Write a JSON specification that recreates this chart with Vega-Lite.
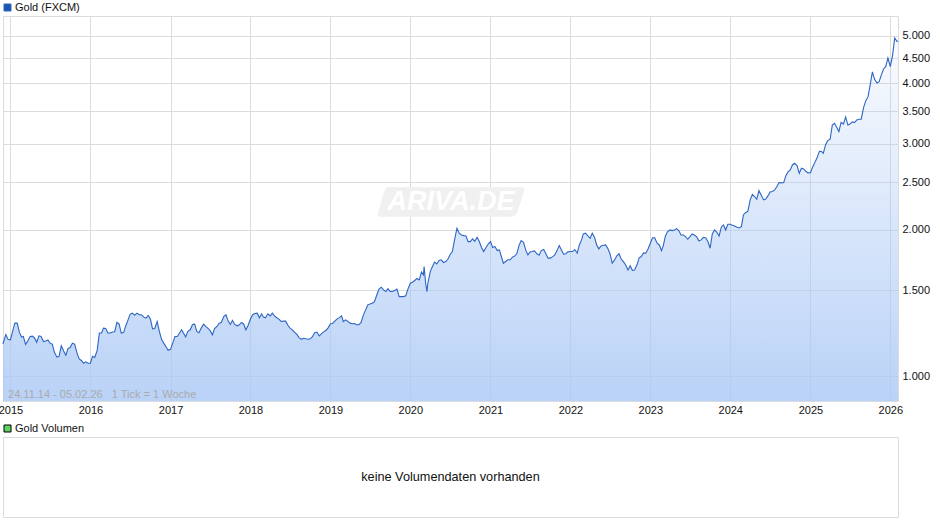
{
  "$schema": "https://vega.github.io/schema/vega-lite/v6.json",
  "background": "white",
  "padding": {"left": -3, "top": 1, "right": 0, "bottom": 0},
  "bounds": "flush",
  "spacing": 36,
  "config": {"font": "Liberation Sans", "view": {"stroke": "#dcdcdc"}},
  "resolve": {"scale": {"color": "independent"}, "legend": {"color": "independent"}},
  "datasets": {
    "gold": [
      {"d":"2014-11-28","v":1165},{"d":"2014-12-01","v":1178},{"d":"2014-12-11","v":1218},{"d":"2014-12-21","v":1190},
      {"d":"2015-01-01","v":1187},{"d":"2015-01-11","v":1236},{"d":"2015-01-21","v":1285},{"d":"2015-02-01","v":1285},{"d":"2015-02-11","v":1230},{"d":"2015-02-21","v":1203},{"d":"2015-03-01","v":1206},{"d":"2015-03-11","v":1162},{"d":"2015-03-21","v":1181},{"d":"2015-04-01","v":1206},{"d":"2015-04-11","v":1208},{"d":"2015-04-21","v":1198},{"d":"2015-05-01","v":1174},{"d":"2015-05-11","v":1210},{"d":"2015-05-21","v":1206},{"d":"2015-06-01","v":1178},{"d":"2015-06-11","v":1181},{"d":"2015-06-21","v":1187},{"d":"2015-07-01","v":1169},{"d":"2015-07-11","v":1163},{"d":"2015-07-21","v":1119},{"d":"2015-08-01","v":1094},{"d":"2015-08-11","v":1098},{"d":"2015-08-21","v":1154},{"d":"2015-09-01","v":1126},{"d":"2015-09-11","v":1104},{"d":"2015-09-21","v":1140},{"d":"2015-10-01","v":1145},{"d":"2015-10-11","v":1169},{"d":"2015-10-21","v":1163},{"d":"2015-11-01","v":1115},{"d":"2015-11-11","v":1085},{"d":"2015-11-21","v":1077},{"d":"2015-12-01","v":1063},{"d":"2015-12-11","v":1070},{"d":"2015-12-21","v":1063},
      {"d":"2016-01-01","v":1063},{"d":"2016-01-11","v":1098},{"d":"2016-01-21","v":1092},{"d":"2016-02-01","v":1130},{"d":"2016-02-11","v":1226},{"d":"2016-02-21","v":1226},{"d":"2016-03-01","v":1255},{"d":"2016-03-11","v":1253},{"d":"2016-03-21","v":1226},{"d":"2016-04-01","v":1226},{"d":"2016-04-11","v":1232},{"d":"2016-04-21","v":1234},{"d":"2016-05-01","v":1289},{"d":"2016-05-11","v":1280},{"d":"2016-05-21","v":1226},{"d":"2016-06-01","v":1230},{"d":"2016-06-11","v":1271},{"d":"2016-06-21","v":1305},{"d":"2016-07-01","v":1341},{"d":"2016-07-11","v":1347},{"d":"2016-07-21","v":1334},{"d":"2016-08-01","v":1347},{"d":"2016-08-11","v":1337},{"d":"2016-08-21","v":1337},{"d":"2016-09-01","v":1322},{"d":"2016-09-11","v":1316},{"d":"2016-09-21","v":1333},{"d":"2016-10-01","v":1310},{"d":"2016-10-11","v":1251},{"d":"2016-10-21","v":1253},{"d":"2016-11-01","v":1295},{"d":"2016-11-11","v":1236},{"d":"2016-11-21","v":1190},{"d":"2016-12-01","v":1169},{"d":"2016-12-11","v":1150},{"d":"2016-12-21","v":1130},
      {"d":"2017-01-01","v":1135},{"d":"2017-01-11","v":1169},{"d":"2017-01-21","v":1206},{"d":"2017-02-01","v":1206},{"d":"2017-02-11","v":1226},{"d":"2017-02-21","v":1245},{"d":"2017-03-01","v":1226},{"d":"2017-03-11","v":1203},{"d":"2017-03-21","v":1236},{"d":"2017-04-01","v":1245},{"d":"2017-04-11","v":1275},{"d":"2017-04-21","v":1280},{"d":"2017-05-01","v":1236},{"d":"2017-05-11","v":1228},{"d":"2017-05-21","v":1255},{"d":"2017-06-01","v":1279},{"d":"2017-06-11","v":1265},{"d":"2017-06-21","v":1253},{"d":"2017-07-01","v":1241},{"d":"2017-07-11","v":1216},{"d":"2017-07-21","v":1253},{"d":"2017-08-01","v":1265},{"d":"2017-08-11","v":1285},{"d":"2017-08-21","v":1289},{"d":"2017-09-01","v":1326},{"d":"2017-09-11","v":1337},{"d":"2017-09-21","v":1299},{"d":"2017-10-01","v":1277},{"d":"2017-10-11","v":1302},{"d":"2017-10-21","v":1277},{"d":"2017-11-01","v":1269},{"d":"2017-11-11","v":1275},{"d":"2017-11-21","v":1289},{"d":"2017-12-01","v":1280},{"d":"2017-12-11","v":1245},{"d":"2017-12-21","v":1271},
      {"d":"2018-01-01","v":1310},{"d":"2018-01-11","v":1337},{"d":"2018-01-21","v":1345},{"d":"2018-02-01","v":1347},{"d":"2018-02-11","v":1318},{"d":"2018-02-21","v":1343},{"d":"2018-03-01","v":1322},{"d":"2018-03-11","v":1318},{"d":"2018-03-21","v":1343},{"d":"2018-04-01","v":1330},{"d":"2018-04-11","v":1347},{"d":"2018-04-21","v":1330},{"d":"2018-05-01","v":1318},{"d":"2018-05-11","v":1310},{"d":"2018-05-21","v":1295},{"d":"2018-06-01","v":1297},{"d":"2018-06-11","v":1297},{"d":"2018-06-21","v":1272},{"d":"2018-07-01","v":1255},{"d":"2018-07-11","v":1245},{"d":"2018-07-21","v":1232},{"d":"2018-08-01","v":1218},{"d":"2018-08-11","v":1200},{"d":"2018-08-21","v":1190},{"d":"2018-09-01","v":1196},{"d":"2018-09-11","v":1193},{"d":"2018-09-21","v":1191},{"d":"2018-10-01","v":1193},{"d":"2018-10-11","v":1205},{"d":"2018-10-21","v":1228},{"d":"2018-11-01","v":1232},{"d":"2018-11-11","v":1210},{"d":"2018-11-21","v":1221},{"d":"2018-12-01","v":1233},{"d":"2018-12-11","v":1241},{"d":"2018-12-21","v":1255},
      {"d":"2019-01-01","v":1281},{"d":"2019-01-11","v":1283},{"d":"2019-01-21","v":1297},{"d":"2019-02-01","v":1311},{"d":"2019-02-11","v":1319},{"d":"2019-02-21","v":1330},{"d":"2019-03-01","v":1295},{"d":"2019-03-11","v":1305},{"d":"2019-03-21","v":1297},{"d":"2019-04-01","v":1285},{"d":"2019-04-11","v":1281},{"d":"2019-04-21","v":1283},{"d":"2019-05-01","v":1275},{"d":"2019-05-11","v":1275},{"d":"2019-05-21","v":1289},{"d":"2019-06-01","v":1336},{"d":"2019-06-11","v":1368},{"d":"2019-06-21","v":1401},{"d":"2019-07-01","v":1407},{"d":"2019-07-11","v":1412},{"d":"2019-07-21","v":1423},{"d":"2019-08-01","v":1468},{"d":"2019-08-11","v":1509},{"d":"2019-08-21","v":1523},{"d":"2019-09-01","v":1504},{"d":"2019-09-11","v":1492},{"d":"2019-09-21","v":1513},{"d":"2019-10-01","v":1492},{"d":"2019-10-11","v":1492},{"d":"2019-10-21","v":1499},{"d":"2019-11-01","v":1509},{"d":"2019-11-11","v":1457},{"d":"2019-11-21","v":1457},{"d":"2019-12-01","v":1457},{"d":"2019-12-11","v":1462},{"d":"2019-12-21","v":1509},
      {"d":"2020-01-01","v":1552},{"d":"2020-01-11","v":1559},{"d":"2020-01-21","v":1572},{"d":"2020-02-01","v":1587},{"d":"2020-02-11","v":1577},{"d":"2020-02-21","v":1637},{"d":"2020-03-01","v":1615},{"d":"2020-03-04","v":1680},{"d":"2020-03-11","v":1552},{"d":"2020-03-17","v":1492},{"d":"2020-03-21","v":1552},{"d":"2020-04-01","v":1640},{"d":"2020-04-11","v":1680},{"d":"2020-04-21","v":1715},{"d":"2020-05-01","v":1700},{"d":"2020-05-11","v":1729},{"d":"2020-05-21","v":1734},{"d":"2020-06-01","v":1712},{"d":"2020-06-11","v":1720},{"d":"2020-06-21","v":1740},{"d":"2020-07-01","v":1778},{"d":"2020-07-11","v":1803},{"d":"2020-07-21","v":1905},{"d":"2020-08-01","v":2013},{"d":"2020-08-11","v":1966},{"d":"2020-08-21","v":1950},{"d":"2020-09-01","v":1944},{"d":"2020-09-11","v":1941},{"d":"2020-09-21","v":1890},{"d":"2020-10-01","v":1890},{"d":"2020-10-11","v":1914},{"d":"2020-10-21","v":1893},{"d":"2020-11-01","v":1929},{"d":"2020-11-11","v":1890},{"d":"2020-11-21","v":1838},{"d":"2020-12-01","v":1803},{"d":"2020-12-11","v":1835},{"d":"2020-12-21","v":1866},
      {"d":"2021-01-01","v":1890},{"d":"2021-01-11","v":1838},{"d":"2021-01-21","v":1846},{"d":"2021-02-01","v":1811},{"d":"2021-02-11","v":1817},{"d":"2021-02-21","v":1753},{"d":"2021-03-01","v":1706},{"d":"2021-03-11","v":1720},{"d":"2021-03-21","v":1734},{"d":"2021-04-01","v":1734},{"d":"2021-04-11","v":1755},{"d":"2021-04-21","v":1764},{"d":"2021-05-01","v":1784},{"d":"2021-05-11","v":1852},{"d":"2021-05-21","v":1899},{"d":"2021-06-01","v":1884},{"d":"2021-06-11","v":1817},{"d":"2021-06-21","v":1775},{"d":"2021-07-01","v":1800},{"d":"2021-07-11","v":1803},{"d":"2021-07-21","v":1808},{"d":"2021-08-01","v":1784},{"d":"2021-08-11","v":1772},{"d":"2021-08-21","v":1811},{"d":"2021-09-01","v":1820},{"d":"2021-09-11","v":1784},{"d":"2021-09-21","v":1748},{"d":"2021-10-01","v":1748},{"d":"2021-10-11","v":1758},{"d":"2021-10-21","v":1772},{"d":"2021-11-01","v":1811},{"d":"2021-11-11","v":1855},{"d":"2021-11-21","v":1817},{"d":"2021-12-01","v":1781},{"d":"2021-12-11","v":1784},{"d":"2021-12-21","v":1800},
      {"d":"2022-01-01","v":1803},{"d":"2022-01-11","v":1803},{"d":"2022-01-21","v":1820},{"d":"2022-02-01","v":1789},{"d":"2022-02-11","v":1860},{"d":"2022-02-21","v":1905},{"d":"2022-03-01","v":1960},{"d":"2022-03-11","v":1966},{"d":"2022-03-21","v":1944},{"d":"2022-04-01","v":1920},{"d":"2022-04-11","v":1966},{"d":"2022-04-21","v":1929},{"d":"2022-05-01","v":1860},{"d":"2022-05-11","v":1826},{"d":"2022-05-21","v":1852},{"d":"2022-06-01","v":1857},{"d":"2022-06-11","v":1860},{"d":"2022-06-21","v":1829},{"d":"2022-07-01","v":1784},{"d":"2022-07-11","v":1706},{"d":"2022-07-21","v":1731},{"d":"2022-08-01","v":1767},{"d":"2022-08-11","v":1784},{"d":"2022-08-21","v":1740},{"d":"2022-09-01","v":1717},{"d":"2022-09-11","v":1690},{"d":"2022-09-21","v":1653},{"d":"2022-10-01","v":1686},{"d":"2022-10-11","v":1650},{"d":"2022-10-21","v":1652},{"d":"2022-11-01","v":1693},{"d":"2022-11-11","v":1750},{"d":"2022-11-21","v":1761},{"d":"2022-12-01","v":1792},{"d":"2022-12-11","v":1789},{"d":"2022-12-21","v":1823},
      {"d":"2023-01-01","v":1875},{"d":"2023-01-11","v":1925},{"d":"2023-01-21","v":1925},{"d":"2023-02-01","v":1875},{"d":"2023-02-11","v":1860},{"d":"2023-02-21","v":1811},{"d":"2023-03-01","v":1852},{"d":"2023-03-11","v":1941},{"d":"2023-03-21","v":1982},{"d":"2023-04-01","v":1997},{"d":"2023-04-11","v":1991},{"d":"2023-04-21","v":1997},{"d":"2023-05-01","v":2010},{"d":"2023-05-11","v":1991},{"d":"2023-05-21","v":1950},{"d":"2023-06-01","v":1950},{"d":"2023-06-11","v":1935},{"d":"2023-06-21","v":1911},{"d":"2023-07-01","v":1935},{"d":"2023-07-11","v":1960},{"d":"2023-07-21","v":1950},{"d":"2023-08-01","v":1932},{"d":"2023-08-11","v":1895},{"d":"2023-08-21","v":1905},{"d":"2023-09-01","v":1929},{"d":"2023-09-11","v":1923},{"d":"2023-09-21","v":1890},{"d":"2023-10-01","v":1831},{"d":"2023-10-11","v":1960},{"d":"2023-10-21","v":1997},{"d":"2023-11-01","v":1975},{"d":"2023-11-11","v":1941},{"d":"2023-11-21","v":2023},{"d":"2023-12-01","v":2045},{"d":"2023-12-11","v":1997},{"d":"2023-12-21","v":2052},
      {"d":"2024-01-01","v":2052},{"d":"2024-01-11","v":2042},{"d":"2024-01-21","v":2035},{"d":"2024-02-01","v":2023},{"d":"2024-02-11","v":2016},{"d":"2024-02-21","v":2029},{"d":"2024-03-01","v":2144},{"d":"2024-03-11","v":2170},{"d":"2024-03-21","v":2178},{"d":"2024-04-01","v":2302},{"d":"2024-04-11","v":2361},{"d":"2024-04-21","v":2339},{"d":"2024-05-01","v":2309},{"d":"2024-05-11","v":2405},{"d":"2024-05-21","v":2357},{"d":"2024-06-01","v":2302},{"d":"2024-06-11","v":2312},{"d":"2024-06-21","v":2346},{"d":"2024-07-01","v":2391},{"d":"2024-07-11","v":2395},{"d":"2024-07-21","v":2410},{"d":"2024-08-01","v":2452},{"d":"2024-08-11","v":2499},{"d":"2024-08-21","v":2495},{"d":"2024-09-01","v":2499},{"d":"2024-09-11","v":2582},{"d":"2024-09-21","v":2628},{"d":"2024-10-01","v":2653},{"d":"2024-10-11","v":2716},{"d":"2024-10-21","v":2737},{"d":"2024-11-01","v":2708},{"d":"2024-11-11","v":2611},{"d":"2024-11-21","v":2674},{"d":"2024-12-01","v":2665},{"d":"2024-12-11","v":2636},{"d":"2024-12-21","v":2615},
      {"d":"2025-01-01","v":2619},{"d":"2025-01-11","v":2686},{"d":"2025-01-21","v":2746},{"d":"2025-02-01","v":2812},{"d":"2025-02-11","v":2897},{"d":"2025-02-21","v":2893},{"d":"2025-03-01","v":2870},{"d":"2025-03-11","v":2985},{"d":"2025-03-21","v":3047},{"d":"2025-04-01","v":3067},{"d":"2025-04-11","v":3280},{"d":"2025-04-21","v":3307},{"d":"2025-05-01","v":3246},{"d":"2025-05-11","v":3180},{"d":"2025-05-21","v":3323},{"d":"2025-06-01","v":3296},{"d":"2025-06-11","v":3409},{"d":"2025-06-21","v":3280},{"d":"2025-07-01","v":3296},{"d":"2025-07-11","v":3329},{"d":"2025-07-21","v":3318},{"d":"2025-08-01","v":3361},{"d":"2025-08-11","v":3372},{"d":"2025-08-21","v":3372},{"d":"2025-09-01","v":3568},{"d":"2025-09-11","v":3682},{"d":"2025-09-21","v":3747},{"d":"2025-10-01","v":3966},{"d":"2025-10-11","v":4217},{"d":"2025-10-21","v":4073},{"d":"2025-11-01","v":4003},{"d":"2025-11-11","v":4028},{"d":"2025-11-21","v":4158},{"d":"2025-12-01","v":4277},{"d":"2025-12-11","v":4325},{"d":"2025-12-21","v":4505},
      {"d":"2026-01-01","v":4325},{"d":"2026-01-11","v":4556},{"d":"2026-01-21","v":4950},{"d":"2026-02-01","v":4870},{"d":"2026-02-05","v":4880}
    ]
  },
  "vconcat": [
    {
      "width": 895,
      "height": 385,
      "view": {"stroke": "#dcdcdc"},
      "data": {"name": "gold"},
      "encoding": {
        "x": {
          "field": "d",
          "type": "temporal",
          "scale": {"domain": ["2014-11-28", "2026-02-05"]},
          "axis": {
            "title": null,
            "format": "%Y",
            "values": ["2015-01-01","2016-01-01","2017-01-01","2018-01-01","2019-01-01","2020-01-01","2021-01-01","2022-01-01","2023-01-01","2024-01-01","2025-01-01","2026-01-01"],
            "domain": false,
            "ticks": false,
            "grid": true,
            "gridColor": "#dcdcdc",
            "gridOpacity": 1,
            "labelFontSize": 11,
            "labelColor": "#111111",
            "labelPadding": 3,
            "labelOverlap": false,
            "labelBound": false,
            "labelFlush": false,
            "encode": {"labels": {"update": {"dx": {"signal": "year(datum.value) == 2015 ? 2 : 0"}}}}
          }
        },
        "y": {
          "field": "v",
          "type": "quantitative",
          "stack": null,
          "scale": {"type": "log", "domain": [889, 5495], "nice": false},
          "axis": {
            "title": null,
            "orient": "right",
            "values": [1000, 1500, 2000, 2500, 3000, 3500, 4000, 4500, 5000],
            "labelExpr": "replace(format(datum.value, ',d'), ',', '.')",
            "domain": false,
            "ticks": false,
            "grid": true,
            "gridColor": "#dcdcdc",
            "gridOpacity": 1,
            "labelFontSize": 11,
            "labelColor": "#111111",
            "labelPadding": 4,
            "labelOverlap": false
          }
        }
      },
      "layer": [
        {
          "mark": {"type": "point", "shape": "M-0.86,-0.2 L0.96,-0.2 Q1,-0.2 0.99,-0.16 L0.9,0.13 Q0.87,0.2 0.8,0.2 L-0.96,0.2 Q-1,0.2 -0.99,0.16 L-0.91,-0.12 Q-0.88,-0.2 -0.86,-0.2 Z", "filled": true, "opacity": 1, "color": "#f0f0f0", "size": 21904},
          "data": {"values": [{"d": "2020-07-05", "v": 2280}]}
        },
        {
          "mark": {"type": "text", "text": "ARIVA.DE", "font": "Liberation Sans", "fontSize": 27, "fontWeight": "bold", "fontStyle": "italic", "color": "#ffffff"},
          "data": {"values": [{"d": "2020-07-05", "v": 2280}]}
        },
        {
          "mark": {
            "type": "area",
            "color": {
              "x1": 1, "y1": 0, "x2": 1, "y2": 1,
              "gradient": "linear",
              "stops": [
                {"offset": 0, "color": "rgba(170,200,245,0.06)"},
                {"offset": 1, "color": "rgba(170,200,245,0.82)"}
              ]
            }
          }
        },
        {
          "mark": {"type": "line", "strokeWidth": 1.1},
          "encoding": {
            "color": {
              "datum": "Gold (FXCM)",
              "scale": {"range": ["#2d66c3"]},
              "legend": {
                "title": null,
                "orient": "none",
                "legendX": -1,
                "legendY": -14,
                "symbolType": "square",
                "symbolSize": 49,
                "symbolFillColor": "#1a56b0",
                "symbolStrokeColor": "#000000",
                "symbolStrokeWidth": 1,
                "labelFontSize": 11,
                "labelColor": "#111111",
                "labelOffset": 2,
                "padding": 0
              }
            }
          }
        },
        {
          "mark": {"type": "text", "text": "24.11.14 - 05.02.26\u00a0\u00a0\u00a01 Tick = 1 Woche", "align": "left", "fontSize": 11, "color": "#aaaaaa"},
          "data": {"values": [{"d": "2014-12-21", "v": 915}]}
        }
      ]
    },
    {
      "width": 895,
      "height": 80,
      "view": {"stroke": "#dcdcdc"},
      "data": {"values": [{"msg": "keine Volumendaten vorhanden", "series": "Gold Volumen"}]},
      "layer": [
        {
          "mark": {"type": "text", "fontSize": 12.7, "color": "#111111"},
          "encoding": {"text": {"field": "msg"}}
        },
        {
          "mark": {"type": "square", "opacity": 0},
          "encoding": {
            "color": {
              "field": "series",
              "scale": {"range": ["#5fd35f"]},
              "legend": {
                "title": null,
                "orient": "none",
                "legendX": -1,
                "legendY": -14,
                "symbolSize": 49,
                "symbolOpacity": 1,
                "symbolStrokeColor": "#000000",
                "symbolStrokeWidth": 1,
                "labelFontSize": 11,
                "labelColor": "#111111",
                "labelOffset": 2,
                "padding": 0
              }
            }
          }
        }
      ]
    }
  ]
}
